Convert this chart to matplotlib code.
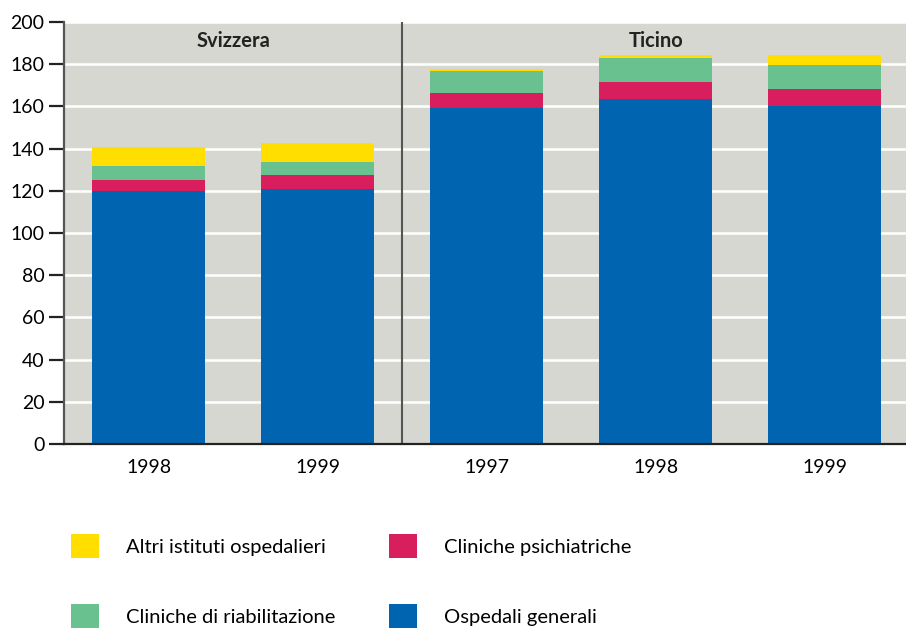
import matplotlib
matplotlib.use("Agg")
import matplotlib.pyplot as plt
import numpy as np

plt.rcParams['font.family'] = ['Lato', 'DejaVu Sans']

years = ["1998", "1999", "1997", "1998", "1999"]
groups = ["Svizzera", "Ticino"]
ospedali_generali = [119.9, 120.7, 159.2, 163.6, 160.2]
cliniche_psichiatriche = [5.2, 6.8, 7.2, 8.0, 8.0]
cliniche_riabilitazione = [6.7, 6.1, 10.4, 11.3, 11.4]
altri_istituti = [9.0, 9.1, 0.9, 1.5, 4.8]

series = [
    ("Ospedali generali", ospedali_generali, "#0064B0"),
    ("Cliniche psichiatriche", cliniche_psichiatriche, "#D91E5E"),
    ("Cliniche di riabilitazione", cliniche_riabilitazione, "#69C18F"),
    ("Altri istituti ospedalieri", altri_istituti, "#FFDE00"),
]

fig = plt.figure(figsize=(9.06, 6.28), dpi=100)
ax = fig.add_axes([64/906, 184/628, 842/906, 422/628])
ax.set_facecolor("#D7D7D1")

x = np.arange(len(years))
bottom = np.zeros(len(years))
handles = {}
for name, vals, col in series:
    b = ax.bar(x, vals, bottom=bottom, width=0.67, color=col, zorder=3, linewidth=0)
    handles[name] = b
    bottom += np.array(vals)

ax.set_xlim(-0.5, 4.48)
ax.set_ylim(0, 200)
ax.set_yticks(np.arange(0, 201, 20))
ax.yaxis.grid(True, color="white", linewidth=1.8, zorder=1)
ax.set_axisbelow(True)
ax.set_xticks(x)
ax.set_xticklabels(years, fontsize=14)
ax.tick_params(axis='x', length=0, pad=11)
ax.tick_params(axis='y', length=11, width=1.6, color="#222222", labelsize=14, pad=3)

for s in ["top", "right"]:
    ax.spines[s].set_visible(False)
ax.spines["left"].set_color("#555555")
ax.spines["left"].set_linewidth(1.6)
ax.spines["bottom"].set_color("#222222")
ax.spines["bottom"].set_linewidth(1.6)
ax.spines["bottom"].set_zorder(5)

ax.axvline(1.5, color="#555555", linewidth=1.5, zorder=4)

ax.text(0.5, 191, groups[0], ha="center", va="center", fontsize=14.5, fontweight="bold", color="#222222")
ax.text(3.0, 191, groups[1], ha="center", va="center", fontsize=14.5, fontweight="bold", color="#222222")

order = ["Altri istituti ospedalieri", "Cliniche di riabilitazione",
         "Cliniche psichiatriche", "Ospedali generali"]
leg = fig.legend([handles[n] for n in order], order, ncol=2,
                 loc="upper left", bbox_to_anchor=(53/906, 1 - 516/628),
                 frameon=False, fontsize=14.5, handlelength=1.4, handleheight=1.45,
                 handletextpad=1.3, labelspacing=2.3, columnspacing=2.7)
fig.savefig("out.png", dpi=100)
